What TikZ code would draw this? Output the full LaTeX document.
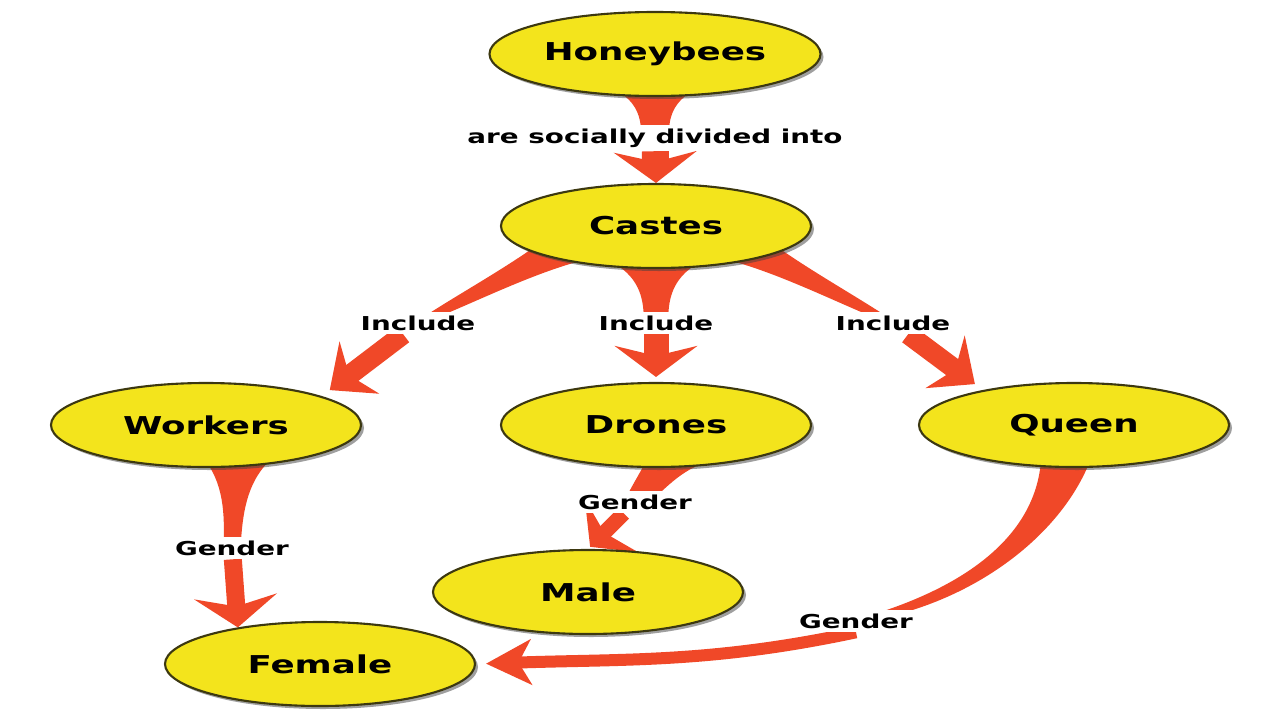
\documentclass[tikz,border=0pt]{standalone}
\usepackage{fontspec}
\setmainfont{DejaVu Sans}[FakeStretch=1.45]
\usetikzlibrary{arrows.meta, shapes.geometric, shadows, backgrounds, calc}

\definecolor{beeyellow}{RGB}{243,228,28}
\definecolor{beered}{RGB}{240,72,40}
\definecolor{beeline}{RGB}{60,56,16}

% tapered trunk: start, c1, c2, end, half widths (start, middle, end) in cm
\newcommand{\beecurve}[7]{%
  \fill[beered] ($(#1)!#5cm!90:(#2)$)
    .. controls ($(#2)!#6cm!-90:(#1)$) and ($(#3)!#6cm!90:(#4)$) .. ($(#4)!#7cm!-90:(#3)$)
    -- ($(#4)!#7cm!90:(#3)$)
    .. controls ($(#3)!#6cm!-90:(#4)$) and ($(#2)!#6cm!90:(#1)$) .. ($(#1)!#5cm!-90:(#2)$)
    -- cycle;}
\newcommand{\beetaper}[5]{%
  \path (#1) -- coordinate[pos=0.3] (tpa) coordinate[pos=0.7] (tpb) (#2);
  \beecurve{#1}{tpa}{tpb}{#2}{#3}{#4}{#5}}

\begin{document}
\begin{tikzpicture}[
    >={Stealth[length=0.62cm, width=1.65cm, inset=0.2cm]},
    bee/.style={ellipse, draw=beeline, line width=1.2pt, fill=beeyellow,
                minimum width=6.2cm, minimum height=1.68cm,
                font=\fontsize{14}{16}\selectfont\bfseries,
                drop shadow={shadow xshift=0.06cm, shadow yshift=-0.06cm, fill=black!75}},
    conn/.style={->, draw=beered, line width=0.4cm},
    slim/.style={-{Stealth[length=0.74cm, width=1.3cm, inset=0.25cm]}},
    lbl/.style={fill=white, inner xsep=1pt, inner ysep=2pt,
                font=\fontsize{10.9}{12}\selectfont\bfseries}
  ]
  \useasboundingbox (0,0) rectangle (25.6,-14.4);

  % Top
  \node[bee] (hb) at (13.10,-1.08) {Honeybees};
  \node[bee] (ca) at (13.12,-4.52) {Castes};

  % Castes
  \node[bee] (wk) at (4.12,-8.50) {Workers};
  \node[bee] (dr) at (13.12,-8.50) {Drones};
  \node[bee] (qu) at (21.48,-8.50) {Queen};

  % Gender
  \node[bee] (ma) at (11.76,-11.84) {Male};
  \node[bee] (fe) at (6.40,-13.28) {Female};

  % Labels
  \node[lbl] (l0) at (13.10,-2.76) {are socially divided into};
  \node[lbl] (l1) at (8.36,-6.46) {Include};
  \node[lbl] (l2) at (13.12,-6.46) {Include};
  \node[lbl] (l3) at (17.86,-6.46) {Include};
  \node[lbl] (l4) at (4.64,-10.96) {Gender};
  \node[lbl] (l5) at (12.70,-10.04) {Gender};
  \node[lbl] (l6) at (17.12,-12.42) {Gender};

  % Trunk starts
  \coordinate (s0) at ($(hb.south)+(0,0.06)$);
  \coordinate (s1) at ($(ca)+(-1.6,-0.3)$);
  \coordinate (s2) at ($(ca.south)+(0,0.06)$);
  \coordinate (s3) at ($(ca)+(1.6,-0.3)$);
  \coordinate (s4) at ($(wk)+(0.6,-0.76)$);
  \coordinate (s5) at ($(dr)+(0.48,-0.40)$);
  \coordinate (s6) at ($(qu)+(-0.16,-0.60)$);

  \begin{scope}[on background layer]
    \fill[white] (0,0) rectangle (25.6,-14.4);

    \beetaper{s0}{l0.center}{0.66}{0.28}{0.27}
    \beetaper{s1}{l1.center}{0.42}{0.16}{0.04}
    \beetaper{s2}{l2.center}{0.75}{0.25}{0.24}
    \beetaper{s3}{l3.center}{0.42}{0.16}{0.04}
    \beetaper{s4}{l4.center}{0.6}{0.18}{0.17}
    \beetaper{s5}{l5.center}{0.6}{0.3}{0.2}
    \beecurve{s6}{21.0,-10.8}{19.2,-12.0}{l6.center}{0.5}{0.18}{0.03}

    \draw[conn, line width=0.54cm] (l0) -- (ca.north);
    \draw[conn, slim, shorten >=0.2cm] (l1) -- (wk.14);
    \draw[conn, line width=0.5cm, shorten >=0.1cm] (l2) -- (dr.north);
    \draw[conn, slim, shorten >=0.2cm] (l3) -- (qu.159);
    \draw[conn, line width=0.36cm] (l4) -- (fe.156);
    \draw[conn, line width=0.3cm, -{Stealth[length=0.6cm, width=1.5cm, inset=0.2cm]},
          shorten >=0.06cm] (l5) -- (ma.north);
    \draw[conn, line width=0.24cm, -{Stealth[length=0.9cm, width=0.9cm, inset=0.25cm]},
          shorten >=0.2cm] (l6.south) to[out=192, in=2] (fe.east);
  \end{scope}
\end{tikzpicture}
\end{document}
